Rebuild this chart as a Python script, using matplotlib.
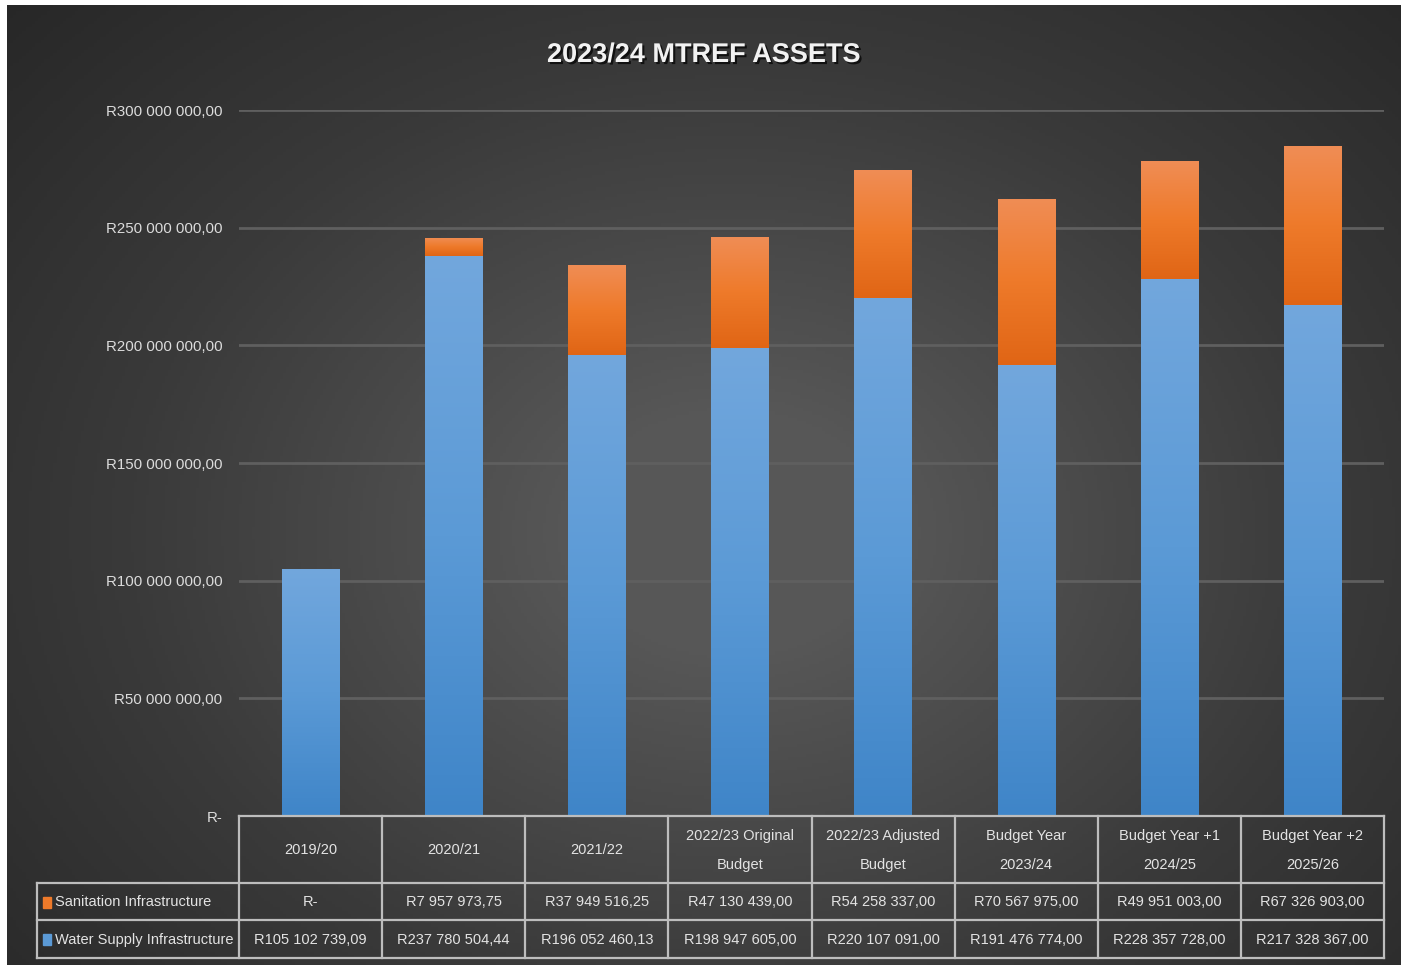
import numpy as np
import matplotlib
matplotlib.use("Agg")
import matplotlib.pyplot as plt
from matplotlib import patheffects as pe
from matplotlib.colors import LinearSegmentedColormap

plt.rcParams['font.family'] = ['Liberation Sans', 'DejaVu Sans']

title = "2023/24 MTREF ASSETS"
categories = ["2019/20", "2020/21", "2021/22", "2022/23 Original\nBudget",
              "2022/23 Adjusted\nBudget", "Budget Year\n2023/24",
              "Budget Year +1\n2024/25", "Budget Year +2\n2025/26"]
series_names = ["Sanitation Infrastructure", "Water Supply Infrastructure"]
water = [105102739.09, 237780504.44, 196052460.13, 198947605.00,
         220107091.00, 191476774.00, 228357728.00, 217328367.00]
sanitation = [0.0, 7957973.75, 37949516.25, 47130439.00,
              54258337.00, 70567975.00, 49951003.00, 67326903.00]
yticks = [0, 50e6, 100e6, 150e6, 200e6, 250e6, 300e6]


def rand(v):
    if v == 0:
        return "R-"
    s = f"{v:,.2f}"
    s = s.replace(",", " ").replace(".", ",")
    return "R" + s


W, H = 1401, 965
fig = plt.figure(figsize=(W / 100, H / 100), dpi=100, facecolor="white")

# background with radial gradient
bg = fig.add_axes([7 / W, 0, 1 - 7 / W, 1 - 5 / H])
bg.set_axis_off()
yy, xx = np.mgrid[0:1:300j, 0:1:450j]
r = np.sqrt(((xx - 0.52) / 0.75) ** 2 + ((yy - 0.55) / 0.85) ** 2)
val = np.clip(1 - r, 0, 1)
bgcm = LinearSegmentedColormap.from_list("bg", ["#252525", "#3a3a3a", "#575757"])
bg.imshow(val, cmap=bgcm, aspect="auto", extent=[0, 1, 0, 1], vmin=0, vmax=0.85)
bg.set_xlim(0, 1)
bg.set_ylim(0, 1)

# plot axes
x0, x1 = 239 / W, 1384 / W
y0, y1 = 1 - 816 / H, 1 - 110 / H
ax = fig.add_axes([x0, y0, x1 - x0, y1 - y0])
ax.patch.set_alpha(0)
n = len(categories)
x = np.arange(n)
for s in ax.spines.values():
    s.set_visible(False)
ax.set_xticks([])
ax.set_yticks(yticks)
ax.set_yticklabels([rand(v) for v in yticks], color="#dcdcdc", fontsize=10.8)
ax.tick_params(axis="y", length=0, pad=12)
for v in yticks[1:]:
    ax.axhline(v, color="#5f5f5f", lw=2, zorder=0)

blue_cm = LinearSegmentedColormap.from_list("b", ["#3f85c8", "#5b9ad6", "#72a7dd"])
orange_cm = LinearSegmentedColormap.from_list("o", ["#e06515", "#ee7a2a", "#f08d55"])
grad = np.linspace(0, 1, 256).reshape(-1, 1)

bw = 0.4
bars_w = ax.bar(x, water, width=bw, color="#5b9ad6", zorder=2)
bars_s = ax.bar(x, sanitation, width=bw, bottom=water, color="#ee7a2a", zorder=2)
for bars, cm in ((bars_w, blue_cm), (bars_s, orange_cm)):
    for b in bars:
        if b.get_height() <= 0:
            continue
        bx, by = b.get_x(), b.get_y()
        im = ax.imshow(grad, cmap=cm, aspect="auto", origin="lower",
                       extent=[bx, bx + b.get_width(), by, by + b.get_height()],
                       zorder=3)
        im.set_clip_path(b)
ax.set_xlim(-0.5, n - 0.5)
ax.set_ylim(0, 300e6)

# title
fig.text(704 / W, 1 - 55 / H, title, ha="center", va="center", fontsize=19.5,
         fontweight="bold", color="#f2f2f2",
         path_effects=[pe.withSimplePatchShadow(offset=(1.5, -1.5),
                                                shadow_rgbFace="black", alpha=0.7)])

# data table
tab = fig.add_axes([0, 0, 1, 1])
tab.set_axis_off()
tab.set_xlim(0, W)
tab.set_ylim(H, 0)
lc = "#bdbdbd"
lw = 1.6
col_edges = np.linspace(239, 1384, n + 1)
row_y = [816, 883, 920, 958]
lab_x0 = 37
tab.plot([239, 1384], [row_y[0]] * 2, color=lc, lw=lw)
for yv in row_y[1:]:
    tab.plot([lab_x0, 1384], [yv] * 2, color=lc, lw=lw)
for xv in col_edges:
    tab.plot([xv, xv], [row_y[0], row_y[3]], color=lc, lw=lw)
tab.plot([lab_x0, lab_x0], [row_y[1], row_y[3]], color=lc, lw=lw)

tc = "#e3e3e3"
fs = 10.5
for i, c in enumerate(categories):
    cx = (col_edges[i] + col_edges[i + 1]) / 2
    tab.text(cx, (row_y[0] + row_y[1]) / 2 + 1, c, ha="center", va="center",
             color=tc, fontsize=fs, linespacing=2.3)
    tab.text(cx, (row_y[1] + row_y[2]) / 2 + 1, rand(sanitation[i]), ha="center",
             va="center", color=tc, fontsize=fs)
    tab.text(cx, (row_y[2] + row_y[3]) / 2 + 1, rand(water[i]), ha="center",
             va="center", color=tc, fontsize=fs)

for k, (name, col) in enumerate(zip(series_names, ["#ee7a2a", "#5b9ad6"])):
    yc = (row_y[k + 1] + row_y[k + 2]) / 2
    tab.add_patch(plt.Rectangle((43, yc - 5), 8, 11, color=col))
    tab.text(55, yc + 1, name, ha="left", va="center", color=tc, fontsize=fs)

fig.savefig("out.png", dpi=100, facecolor="white")
